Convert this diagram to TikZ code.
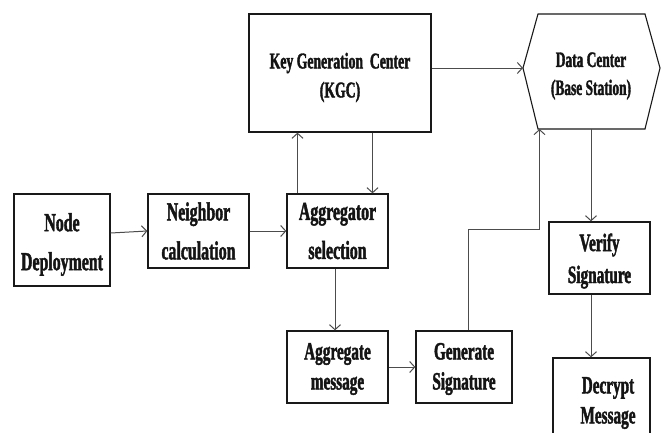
\documentclass[tikz,border=0pt]{standalone}
\usepackage{fontspec}
\setmainfont[FakeStretch=0.61, BoldFeatures={FakeStretch=0.61, FakeBold=1.6}]{Liberation Serif}
\usetikzlibrary{arrows.meta,calc}
\begin{document}
\begin{tikzpicture}[x=1pt,y=-1pt,
  box/.style={draw=black!90, line width=1.3pt, inner sep=0pt},
  lbl/.style={align=center, inner sep=0pt, text=black!92},
  big/.style={font=\bfseries\fontsize{26}{39}\selectfont},
  mid/.style={font=\bfseries\fontsize{25}{30}\selectfont},
  kg/.style={font=\bfseries\fontsize{22.5}{29}\selectfont},
  arr/.style={draw=black!70, line width=1pt, -{Straight Barb[length=5pt,width=11pt]}}]
\clip (0,0) rectangle (662,432);
\fill[white] (0,0) rectangle (662,432);
% boxes
\node[box, minimum width=96pt, minimum height=92pt] (nd) at (62,240) {};
\node[box, minimum width=101pt, minimum height=74pt] (nb) at (198.5,231) {};
\node[box, minimum width=101pt, minimum height=74pt] (ag) at (337.5,231) {};
\node[box, minimum width=182pt, minimum height=118pt] (kgc) at (340,73) {};
\node[box, minimum width=101pt, minimum height=72pt] (vs) at (599.5,258) {};
\node[box, minimum width=101pt, minimum height=72pt] (am) at (337.5,367) {};
\node[box, minimum width=96pt, minimum height=72pt] (gs) at (464,367) {};
\node[box, minimum width=97pt, minimum height=92pt] (dm) at (601.5,404) {};
% hexagon
\coordinate (hL) at (523,68);
\coordinate (hTL) at (538,14);
\coordinate (hTR) at (645,14);
\coordinate (hR) at (660,68);
\coordinate (hBR) at (645,129);
\coordinate (hBL) at (538,129);
\draw[line width=1.1pt, draw=black!90] (hL) -- (hTL) -- (hTR) -- (hR) -- (hBR) -- (hBL) -- cycle;
\node[lbl, font=\bfseries\fontsize{22}{28}\selectfont] (dc) at (591,76) {Data Center\\(Base Station)};
% labels
\node[lbl, big] at ($(nd)+(0,4.5)$) {Node\\Deployment};
\node[lbl, big] at (nb) {Neighbor\\calculation};
\node[lbl, big] at (ag) {Aggregator\\selection};
\node[lbl, kg] at ($(kgc)+(0,4.5)$) {Key Generation\ \ Center\\(KGC)};
\node[lbl, font=\bfseries\fontsize{25}{32}\selectfont] at ($(vs)+(0,3)$) {Verify\\Signature};
\node[lbl, mid] at ($(am)+(0,2)$) {Aggregate\\message};
\node[lbl, mid] at ($(gs)+(0,2)$) {Generate\\Signature};
\node[lbl, mid] at (608,403) {Decrypt\\Message};
% connector coordinates
\coordinate (upx) at ($(ag.north)+(-40,0)$);
\coordinate (dnx) at ($(ag.north)+(35,0)$);
\coordinate (agx) at ($(ag.south)+(-2.5,0)$);
\coordinate (gsx) at ($(gs.north)+(4,0)$);
\coordinate (ndx) at ($(nd.east)+(0,-7)$);
\coordinate (dcin) at (539.5,129);
\coordinate (bend) at (539.5,229);
\coordinate (dcout) at (591,129);
% connectors
\draw[arr] (ndx) -- (nb.west);
\draw[arr] (nb.east) -- (ag.west);
\draw[arr] (upx) -- (upx |- kgc.south);
\draw[arr] (dnx |- kgc.south) -- (dnx);
\draw[arr] (kgc.east |- hL) -- (hL);
\draw[arr] (agx) -- (agx |- am.north);
\draw[arr] (am.east) -- (gs.west);
\draw[arr] (gsx) |- (bend) -- (dcin);
\draw[arr] (dcout) -- (dcout |- vs.north);
\draw[arr] (dcout |- vs.south) -- (dcout |- dm.north);
\end{tikzpicture}
\end{document}
